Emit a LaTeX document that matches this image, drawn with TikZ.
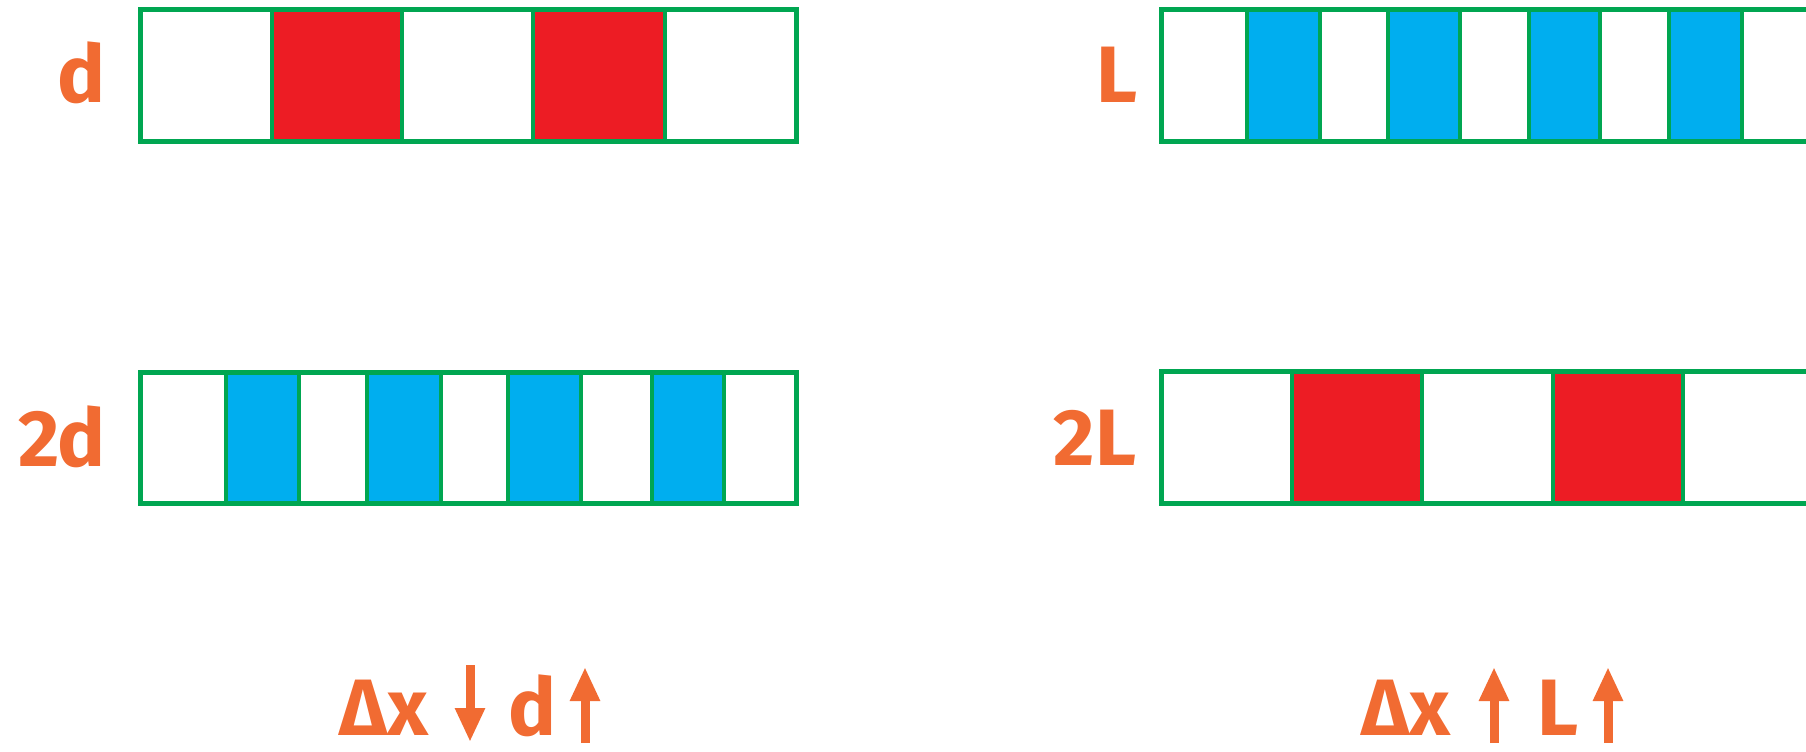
\documentclass[tikz,border=0pt]{standalone}
\usepackage{fontspec}
\setmainfont{Fira Sans}
\usetikzlibrary{arrows.meta}
\definecolor{stripgreen}{RGB}{0, 166, 81}
\definecolor{stripred}{RGB}{237, 28, 36}
\definecolor{stripblue}{RGB}{0, 174, 239}
\definecolor{labelorange}{RGB}{241, 107, 50}

\begin{document}
\begin{tikzpicture}[
    x=0.5pt, y=-0.5pt,
    % Styles definition
    cell/.style={draw=stripgreen, line width=2pt},
    stripframe/.style={draw=stripgreen, line width=2.5pt},
    lbl/.style={text=labelorange, font=\fontsize{40}{48}\selectfont\bfseries, inner sep=0pt, anchor=base},
    trend/.style={draw=labelorange, line width=4.5pt, -{Triangle[width=14pt, length=17pt]}}
]
\useasboundingbox (0,0) rectangle (1806,751);

% 1. Strip d
\foreach \xa/\xb/\fc in {140/272/white, 272/402/stripred, 402/533/white, 533/665/stripred, 665/796/white}
    \draw[cell, fill=\fc] (\xa,9) rectangle (\xb,141);
\draw[stripframe] (140,9) rectangle (796,141);
\node[lbl] (dlab) at (81,102) {d};

% 2. Strip 2d
\foreach \xa/\xb/\fc in {140/226/white, 226/299/stripblue, 299/367/white, 367/441/stripblue, 441/508/white,
                         508/581/stripblue, 581/652/white, 652/724/stripblue, 724/796/white}
    \draw[cell, fill=\fc] (\xa,372) rectangle (\xb,503);
\draw[stripframe] (140,372) rectangle (796,503);
\node[lbl] (ddlab) at (62,466) {2d};

% 3. Strip L
\foreach \xa/\xb/\fc in {1161/1247/white, 1247/1320/stripblue, 1320/1388/white, 1388/1460/stripblue, 1460/1529/white,
                         1529/1600/stripblue, 1600/1669/white, 1669/1742/stripblue, 1742/1812/white}
    \draw[cell, fill=\fc] (\xa,9) rectangle (\xb,141);
\draw[stripframe] (1161,9) rectangle (1812,141);
\node[lbl] (llab) at (1117,102) {L};

% 4. Strip 2L
\foreach \xa/\xb/\fc in {1161/1292/white, 1292/1422/stripred, 1422/1553/white, 1553/1683/stripred, 1683/1812/white}
    \draw[cell, fill=\fc] (\xa,371) rectangle (\xb,503);
\draw[stripframe] (1161,371) rectangle (1812,503);
\node[lbl] (lllab) at (1095,465) {2L};

% 5. Trends
\node[lbl] (dxleft) at (384,735) {Δx};
\node[lbl] (dleft) at (532,735) {d};
\node[lbl] (dxright) at (1406,735) {Δx};
\node[lbl] (lright) at (1558,735) {L};

\coordinate (dxdown_s) at (470,665);
\coordinate (dxdown_e) at (470,742);
\coordinate (dup_s) at (585,743);
\coordinate (dup_e) at (585,667);
\coordinate (dxup_s) at (1494,743);
\coordinate (dxup_e) at (1494,667);
\coordinate (lup_s) at (1608,743);
\coordinate (lup_e) at (1608,667);

\draw[trend] (dxdown_s) -- (dxdown_e);
\draw[trend] (dup_s) -- (dup_e);
\draw[trend] (dxup_s) -- (dxup_e);
\draw[trend] (lup_s) -- (lup_e);

\end{tikzpicture}
\end{document}
